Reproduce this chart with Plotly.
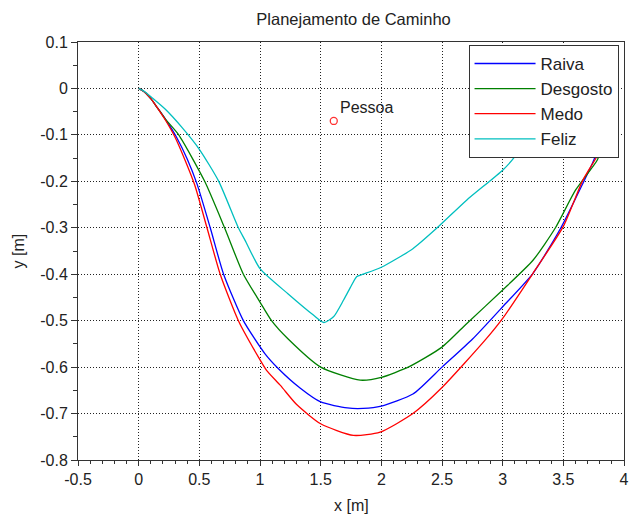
import plotly.graph_objects as go

# ---- data ----
raiva_x = [0, 0.05, 0.1, 0.15, 0.22, 0.31, 0.4, 0.48, 0.59, 0.70, 0.863, 1.04, 1.15, 1.33, 1.5, 1.72, 1.85, 2.0, 2.26, 2.5, 2.75, 3.0, 3.25, 3.48, 3.66, 3.74, 3.79]
raiva_y = [0, -0.008, -0.022, -0.04, -0.066, -0.104, -0.152, -0.205, -0.3, -0.4, -0.5, -0.571, -0.603, -0.645, -0.675, -0.688, -0.689, -0.684, -0.658, -0.6, -0.54, -0.47, -0.398, -0.3, -0.205, -0.161, -0.13]

desgosto_x = [0, 0.05, 0.1, 0.15, 0.22, 0.33, 0.544, 0.708, 0.863, 1.0, 1.095, 1.23, 1.5, 1.826, 2.0, 2.23, 2.5, 2.705, 3.0, 3.25, 3.435, 3.6, 3.78, 3.81]
desgosto_y = [0, -0.008, -0.022, -0.04, -0.066, -0.1, -0.2, -0.3, -0.4, -0.46, -0.5, -0.539, -0.6, -0.628, -0.622, -0.599, -0.557, -0.506, -0.434, -0.37, -0.3, -0.219, -0.154, -0.13]

medo_x = [0, 0.05, 0.1, 0.15, 0.22, 0.298, 0.38, 0.462, 0.563, 0.672, 0.822, 0.986, 1.054, 1.17, 1.3, 1.5, 1.77, 1.99, 2.26, 2.5, 2.855, 3.0, 3.25, 3.5, 3.66, 3.775, 3.8]
medo_y = [0, -0.008, -0.022, -0.04, -0.068, -0.104, -0.153, -0.208, -0.3, -0.4, -0.5, -0.578, -0.607, -0.64, -0.68, -0.722, -0.747, -0.74, -0.7, -0.644, -0.542, -0.495, -0.398, -0.297, -0.198, -0.147, -0.13]

feliz_x = [0, 0.05, 0.11, 0.22, 0.36, 0.5, 0.66, 0.822, 0.877, 1.0, 1.23, 1.44, 1.526, 1.608, 1.69, 1.744, 1.798, 1.85, 2.0, 2.26, 2.46, 2.705, 3.0, 3.1, 3.16]
feliz_y = [0, -0.007, -0.02, -0.045, -0.085, -0.131, -0.2, -0.3, -0.327, -0.388, -0.442, -0.488, -0.504, -0.491, -0.455, -0.429, -0.405, -0.4, -0.385, -0.345, -0.3, -0.24, -0.176, -0.147, -0.12]

pessoa_x = [1.608]
pessoa_y = [-0.070]
pessoa_label = "Pessoa"

x_ticks = [-0.5, 0, 0.5, 1, 1.5, 2, 2.5, 3, 3.5, 4]
x_ticktext = ["-0.5", "0", "0.5", "1", "1.5", "2", "2.5", "3", "3.5", "4"]
y_ticks = [0.1, 0, -0.1, -0.2, -0.3, -0.4, -0.5, -0.6, -0.7, -0.8]
y_ticktext = ["0.1", "0", "-0.1", "-0.2", "-0.3", "-0.4", "-0.5", "-0.6", "-0.7", "-0.8"]

FONT = "Liberation Sans, Arial, sans-serif"
TXT = "#222222"

series = [
    ("Raiva", raiva_x, raiva_y, "#0000ff"),
    ("Desgosto", desgosto_x, desgosto_y, "#008000"),
    ("Medo", medo_x, medo_y, "#ff0000"),
    ("Feliz", feliz_x, feliz_y, "#00bfbf"),
]

fig = go.Figure()
for name, xs, ys, col in series:
    fig.add_trace(go.Scatter(x=xs, y=ys, mode="lines", name=name,
                             line=dict(color=col, width=1.3, shape="spline", smoothing=0.6)))

fig.add_trace(go.Scatter(x=pessoa_x, y=pessoa_y, mode="markers",
                         marker=dict(symbol="circle-open", size=7, color="#ff3333",
                                     line=dict(width=1.3, color="#ff3333")),
                         showlegend=False))
fig.add_annotation(x=pessoa_x[0], y=pessoa_y[0], text=pessoa_label, showarrow=False,
                   xanchor="left", yanchor="bottom", xshift=4, yshift=3,
                   font=dict(family=FONT, size=16, color=TXT))

axis_common = dict(
    showline=True, linecolor="#333333", linewidth=1, mirror=True,
    showgrid=True, gridcolor="#222222", gridwidth=1, griddash="1px,2px",
    zeroline=False, ticks="outside", tickcolor="#333333",
    tickfont=dict(family=FONT, size=16, color=TXT),
    ticklabeloverflow="allow",
)

fig.update_xaxes(range=[-0.5, 4], tickvals=x_ticks, ticktext=x_ticktext,
                 ticklen=5,
                 minor=dict(dtick=0.1, tick0=-0.5, ticks="outside", ticklen=3,
                            tickcolor="#333333", showgrid=False),
                 **axis_common)
fig.update_yaxes(range=[-0.8, 0.1], tickvals=y_ticks, ticktext=y_ticktext,
                 ticklen=6,
                 minor=dict(dtick=0.05, tick0=0, ticks="outside", ticklen=4,
                            tickcolor="#333333", showgrid=False),
                 **axis_common)

fig.add_annotation(x=0.5, y=-0.1077, xref="paper", yref="paper", text="x [m]",
                   showarrow=False, xanchor="center", yanchor="middle",
                   font=dict(family=FONT, size=16, color=TXT))
fig.add_annotation(x=-0.109, y=0.5, xref="paper", yref="paper", text="y [m]",
                   showarrow=False, xanchor="center", yanchor="middle", textangle=-90,
                   font=dict(family=FONT, size=16, color=TXT))

fig.update_layout(
    width=633, height=515,
    margin=dict(l=78, r=4, t=42, b=55),
    paper_bgcolor="white", plot_bgcolor="white",
    title=dict(text="Planejamento de Caminho", x=0.5585, xanchor="center",
               y=0.963, yanchor="middle",
               font=dict(family=FONT, size=16.5, color=TXT)),
    legend=dict(x=0.99, xanchor="right", y=0.993, yanchor="top",
                bgcolor="white", bordercolor="#333333", borderwidth=1,
                font=dict(family=FONT, size=17, color=TXT),
                itemwidth=61),
    showlegend=True,
)

fig.write_html("out.html", config={"displayModeBar": False},
               post_script="document.body.style.margin='0';document.body.style.padding='0';document.documentElement.style.overflow='hidden';")
